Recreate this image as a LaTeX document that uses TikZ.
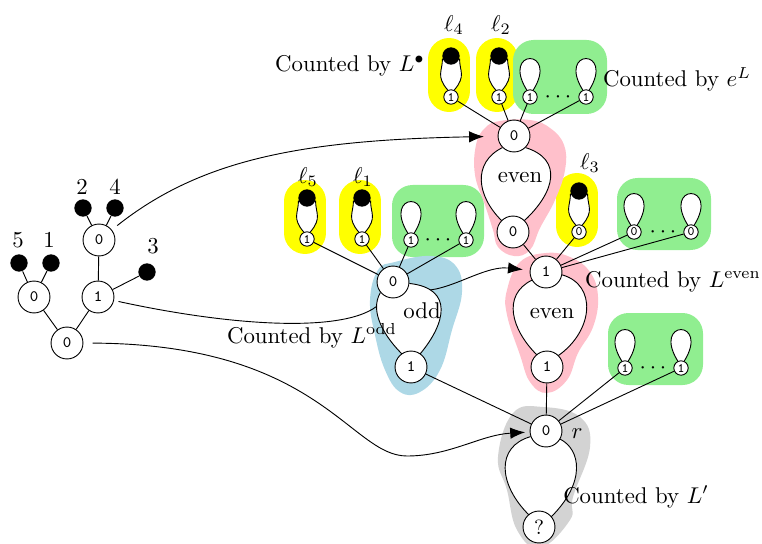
\documentclass[tikz,border=0pt]{standalone}
\usetikzlibrary{arrows.meta}

\definecolor{amarillo}{RGB}{255,255,0}
\definecolor{verde}{RGB}{144,238,144}
\definecolor{rosa}{RGB}{255,192,203}
\definecolor{celeste}{RGB}{173,216,230}
\definecolor{gris}{RGB}{211,211,211}

\pgfdeclarelayer{fondo}
\pgfdeclarelayer{lazos}
\pgfsetlayers{fondo,lazos,main}

\tikzset{
  vert/.style={circle, draw, fill=white, minimum size=14pt, inner sep=0pt, font=\scriptsize\ttfamily},
  hoja/.style={circle, draw, fill=white, minimum size=6.3pt, inner sep=0pt, font=\fontsize{5.7}{6}\selectfont\ttfamily},
  punto/.style={circle, fill=black, minimum size=7.6pt, inner sep=0pt},
  lazo/.style={draw, fill=white},
  capsula/.style={draw=amarillo, line width=18.4pt, line cap=round},
  caja/.style={fill=verde, rounded corners=9pt},
  mancha/.style={smooth cycle, tension=0.7},
  flecha/.style={-{Latex[length=6.5pt,width=5pt]}},
}

\begin{document}
\begin{tikzpicture}[x=0.01541cm, y=-0.01541cm]  % una unidad = un pixel, y hacia abajo
  \useasboundingbox (0,0) rectangle (762,543);

  % Arbol de la izquierda
  \node[vert] (a0) at (67,343) {0};
  \node[vert] (a1) at (34,297) {0};
  \node[vert] (a2) at (98,297) {1};
  \node[vert] (a3) at (99,240) {0};
  \foreach \n/\x/\y/\tx/\ty/\lab in {b5/19/263/18/240/5, b1/51/263/49/240/1,
      b2/83/208/82/187/2, b4/115/208/115/187/4, b3/147/272/153/246/3} {
    \node[punto] (\n) at (\x,\y) {};
    \node (l\n) at (\tx,\ty) {\lab};
  }
  \draw (a0) -- (a1);
  \draw (a0) -- (a2);
  \draw (a2) -- (a3);
  \draw (a2) -- (b3);
  \draw (a1) -- (b5);
  \draw (a1) -- (b1);
  \draw (a3) -- (b2);
  \draw (a3) -- (b4);

  % Vertices grandes de la derecha
  \node[vert] (R1) at (514,136) {0};
  \node[vert] (R2) at (513,232) {0};
  \node[vert] (R3) at (546,272) {1};
  \node[vert] (R4) at (547,367) {1};
  \node[vert] (O1) at (393,282) {0};
  \node[vert] (O2) at (411,367) {1};
  \node[vert] (r0) at (546,431) {0};
  \node[vert, font=\small] (rq) at (539,527) {?};

  % Hojas marcadas (punto negro arriba)
  \foreach \n/\x/\y/\v/\lx/\ly/\i in {t4/451/97/1/454/25/4, t2/499/97/1/501/25/2,
      m3/579/232/0/590/163/3, p5/307/239/1/308/177/5, p1/362/239/1/363/177/1} {
    \node[hoja] (\n) at (\x,\y) {\v};
    \node[punto] (d\n) at (\x,\y-41) {};
    \node (l\n) at (\lx,\ly) {$\ell_{\i}$};
  }

  % Hojas sin marcar
  \foreach \n/\x/\y/\v in {g1/530/97/1, g2/586/97/1, q1/411/240/1, q2/466/240/1,
      h1/634/232/0, h2/691/232/0, k1/625/368/1, k2/681/368/1}
    \node[hoja] (\n) at (\x,\y) {\v};
  \node (dg) at (558,97) {$\cdots$};
  \node (dq) at (438,240) {$\cdots$};
  \node (dh) at (663,232) {$\cdots$};
  \node (dk) at (653,368) {$\cdots$};

  % Aristas
  \foreach \n in {t4,t2,g1,g2} \draw (R1) -- (\n);
  \foreach \n in {m3,h1,h2} \draw (R3) -- (\n);
  \foreach \n in {p5,p1,q1,q2} \draw (O1) -- (\n);
  \foreach \n in {R4,O2,k1,k2} \draw (r0) -- (\n);
  \draw (R2) -- (R3);

  % Textos
  \node (lr) at (577,434) {$r$};
  \node[anchor=base] (ev1) at (520,183) {even};
  \node[anchor=base] (ev2) at (552,318) {even};
  \node[anchor=base] (od) at (422,318) {odd};
  \node[anchor=base] (cL) at (350,72) {Counted by $L^\bullet$};
  \node[anchor=base] (cE) at (677,87) {Counted by $e^L$};
  \node[anchor=base] (cEv) at (673,287) {Counted by $L^{\mathrm{even}}$};
  \node[anchor=base] (cOd) at (312,343) {Counted by $L^{\mathrm{odd}}$};
  \node[anchor=base] (cP) at (636,503) {Counted by $L'$};

  % Manchas de color y flechas
  \begin{pgfonlayer}{fondo}
    \foreach \x/\y in {451/97, 499/97, 579/232, 307/239, 362/239}
      \draw[capsula] (\x-2,\y-38) -- (\x-2,\y-6);
    \fill[caja] (513,40) rectangle (607,114);
    \fill[caja] (392,185) rectangle (484,257);
    \fill[caja] (617,178) rectangle (711,250);
    \fill[caja] (608,313) rectangle (703,385);
    \fill[rosa] plot[mancha] coordinates {(500,121) (530,120) (550,128) (564,145)
      (565,170) (555,200) (540,228) (530,250) (514,256) (498,247) (493,230)
      (485,205) (475,175) (476,145) (485,128)};
    \fill[rosa] plot[mancha] coordinates {(546,253) (570,257) (590,272) (598,297)
      (593,327) (578,353) (567,380) (547,393) (530,382) (520,355) (507,315)
      (507,290) (520,262)};
    \fill[celeste] plot[mancha] coordinates {(395,262) (430,256) (455,265) (462,292)
      (452,330) (440,370) (420,392) (400,392) (385,370) (375,335) (370,300) (378,270)};
    \fill[gris] plot[mancha] coordinates {(543,407) (513,413) (498,457) (507,490)
      (517,530) (540,548) (570,520) (573,497) (590,447) (580,417)};

    \draw[flecha, shorten <=3pt, shorten >=6pt] (a3) .. controls (200,160) and (300,140) .. (R1);
    \draw[shorten <=2pt] (a2) .. controls (240,328) and (365,335) .. (O1);
    \draw[flecha, shorten >=3pt] (O1) .. controls (440,300) and (480,265) .. (R3);
    \draw[flecha, shorten <=4pt, shorten >=2pt] (a0) .. controls (320,344) and (350,456) .. (407,456)
      .. controls (450,456) and (480,435) .. (r0);
  \end{pgfonlayer}

  % Lazos (rellenos de blanco)
  \begin{pgfonlayer}{lazos}
    \foreach \n in {g1,g2,q1,q2,h1,h2,k1,k2}
      \draw[lazo] (\n.115) .. controls +(-26,-42) and +(26,-42) .. (\n.65);
    \foreach \n in {t4,t2,m3,p5,p1}
      \draw[lazo] (\n.115) .. controls +(-12,-14) and +(0,12) .. (d\n.200) -- (d\n.340)
        .. controls +(0,12) and +(12,-14) .. (\n.65);
    \draw[lazo] (R1.225) .. controls +(-30,15) and +(-25,-25) .. (R2.135) -- (R2.45)
      .. controls +(30,-28) and +(38,12) .. (R1.-45);
    \draw[lazo] (R3.210) .. controls +(-30,15) and +(-25,-25) .. (R4.130) -- (R4.45)
      .. controls +(35,-25) and +(35,10) .. (R3.-10);
    \draw[lazo] (O1.220) .. controls +(-12,20) and +(-15,-15) .. (O2.125) -- (O2.55)
      .. controls +(25,-30) and +(45,5) .. (O1.-5);
    \draw[lazo] (r0.200) .. controls +(-35,10) and +(-30,-30) .. (rq.130) -- (rq.40)
      .. controls +(35,-35) and +(20,10) .. (r0.-30);
  \end{pgfonlayer}
\end{tikzpicture}
\end{document}
